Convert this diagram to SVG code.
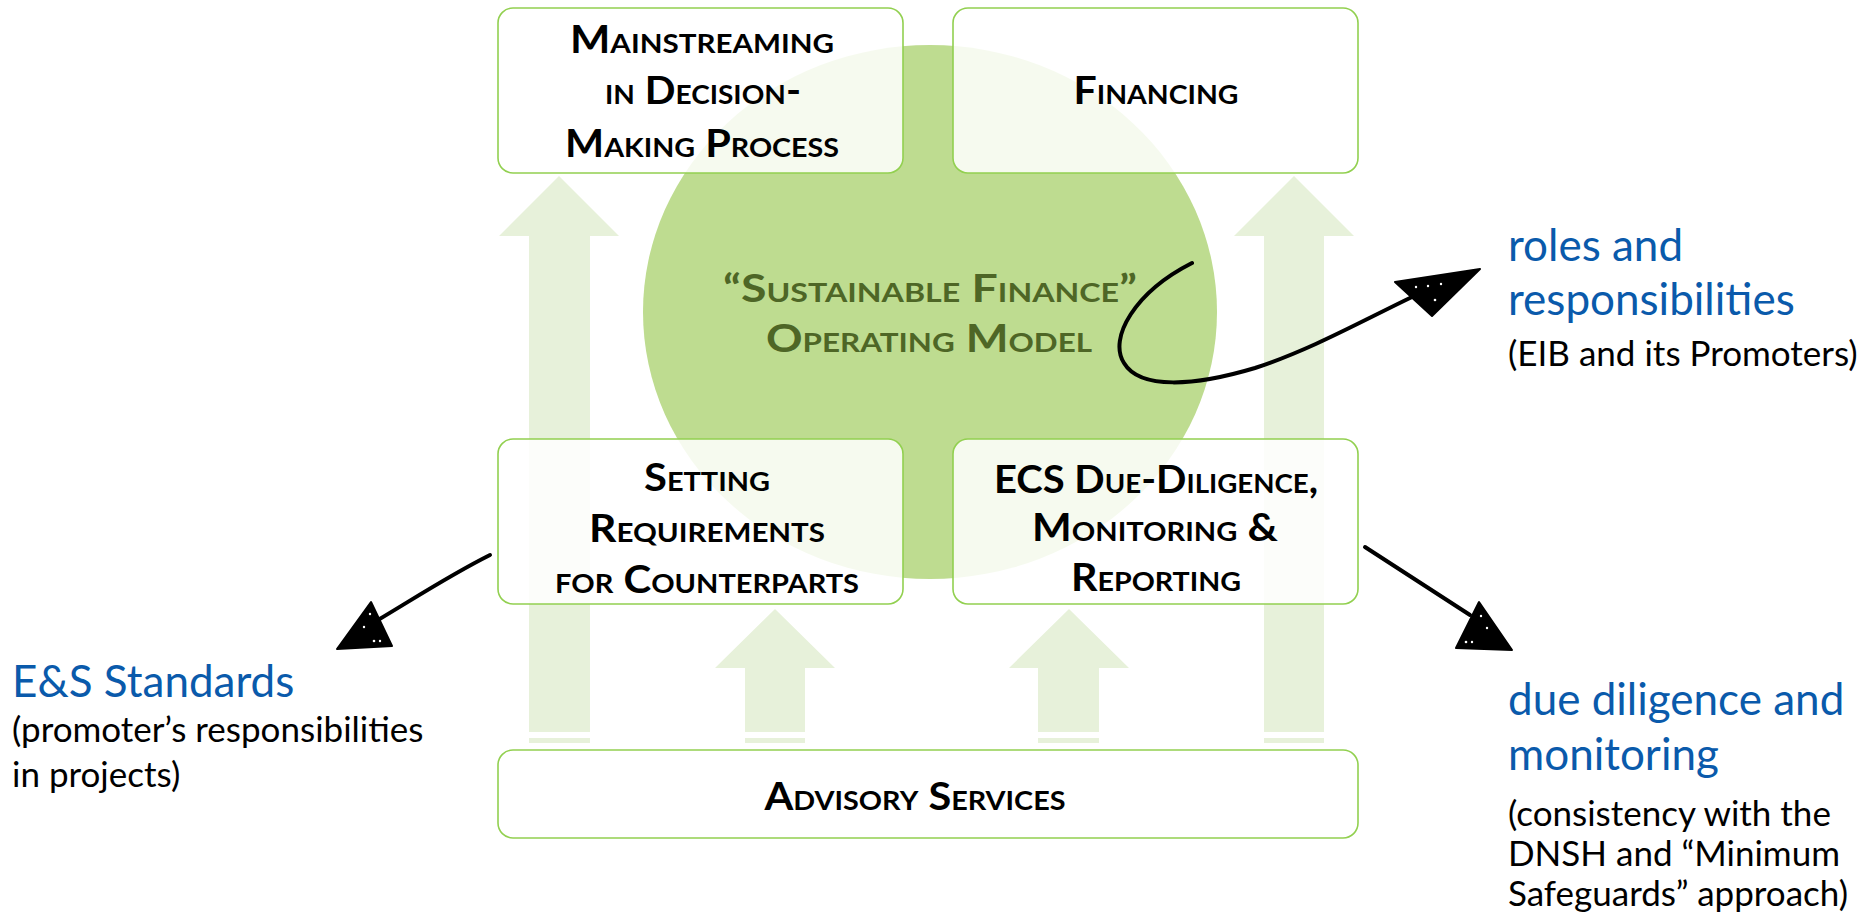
<svg xmlns="http://www.w3.org/2000/svg" width="1867" height="918" viewBox="0 0 1867 918">
<style>
.bg{fill:#ffffff}
.up{fill:#e7f1da}
.box{fill:#ffffff;fill-opacity:0.86;stroke:#92d050;stroke-width:1.6}
.t{font-family:Lato,"Liberation Sans",sans-serif;font-weight:700;font-variant:small-caps;font-size:39px;fill:#000;text-anchor:middle}
.c{font-family:Lato,"Liberation Sans",sans-serif;font-weight:700;font-variant:small-caps;font-size:39px;fill:#4e6626;text-anchor:middle}
.blue{font-family:Lato,"Liberation Sans",sans-serif;font-size:44px;fill:#0a5aab}
.blk{font-family:Lato,"Liberation Sans",sans-serif;font-size:35px;fill:#000}
.ln{fill:none;stroke:#000;stroke-width:4;stroke-linecap:round}
.hd{fill:#000;stroke:#000;stroke-width:2;stroke-linejoin:round}
.sp{fill:#fff}
</style>
<rect class="bg" x="0" y="0" width="1867" height="918"/>
<g id="flow-arrows">
  <polygon class="up" points="559,176 619,236 590,236 590,732 529,732 529,236 499,236"/>
  <rect class="up" x="529" y="738" width="61" height="5"/>
  <polygon class="up" points="1294,176 1354,236 1324,236 1324,732 1264,732 1264,236 1234,236"/>
  <rect class="up" x="1264" y="738" width="60" height="5"/>
  <polygon class="up" points="775,609 835,668 805,668 805,732 745,732 745,668 715,668"/>
  <rect class="up" x="745" y="738" width="60" height="5"/>
  <polygon class="up" points="1069,609 1129,668 1099,668 1099,732 1038,732 1038,668 1009,668"/>
  <rect class="up" x="1038" y="738" width="61" height="5"/>
</g>
<g id="operating-model">
  <ellipse cx="930" cy="312" rx="287" ry="267" fill="#bedc90"/>
  <text class="c" x="930" y="302" textLength="414" lengthAdjust="spacingAndGlyphs">“Sustainable Finance”</text>
  <text class="c" x="929" y="352" textLength="326" lengthAdjust="spacingAndGlyphs">Operating Model</text>
</g>
<g id="node-mainstreaming">
  <rect class="box" x="498" y="8" width="405" height="165" rx="15"/>
  <text class="t" x="702" y="53" textLength="264" lengthAdjust="spacingAndGlyphs">Mainstreaming</text>
  <text class="t" x="703" y="104" textLength="196" lengthAdjust="spacingAndGlyphs">in Decision-</text>
  <text class="t" x="702" y="157" textLength="274" lengthAdjust="spacingAndGlyphs">Making Process</text>
</g>
<g id="node-financing">
  <rect class="box" x="953" y="8" width="405" height="165" rx="15"/>
  <text class="t" x="1156" y="104" textLength="165" lengthAdjust="spacingAndGlyphs">Financing</text>
</g>
<g id="node-setting">
  <rect class="box" x="498" y="439" width="405" height="165" rx="15"/>
  <text class="t" x="707" y="491" textLength="126" lengthAdjust="spacingAndGlyphs">Setting</text>
  <text class="t" x="707" y="542" textLength="236" lengthAdjust="spacingAndGlyphs">Requirements</text>
  <text class="t" x="707" y="593" textLength="304" lengthAdjust="spacingAndGlyphs">for Counterparts</text>
</g>
<g id="node-ecs">
  <rect class="box" x="953" y="439" width="405" height="165" rx="15"/>
  <text class="t" x="1156" y="493" textLength="324" lengthAdjust="spacingAndGlyphs">ECS Due-Diligence,</text>
  <text class="t" x="1155" y="541" textLength="246" lengthAdjust="spacingAndGlyphs">Monitoring &amp;</text>
  <text class="t" x="1156" y="591" textLength="170" lengthAdjust="spacingAndGlyphs">Reporting</text>
</g>
<g id="node-advisory">
  <rect class="box" x="498" y="750" width="860" height="88" rx="15"/>
  <text class="t" x="915" y="810" textLength="301" lengthAdjust="spacingAndGlyphs">Advisory Services</text>
</g>
<g id="connectors">
  <path class="ln" d="M1192,263 C1135,292 1108,338 1124,363 C1140,390 1195,386 1255,368 C1310,350 1360,322 1412,297" stroke-width="5"/>
  <polygon class="hd" points="1480,269 1395,282 1432,316"/>
  <circle class="sp" cx="1416" cy="287" r="1.2"/><circle class="sp" cx="1428" cy="286" r="1.2"/><circle class="sp" cx="1441" cy="284" r="1.2"/><circle class="sp" cx="1435" cy="300" r="1.3"/>
  <path class="ln" d="M490,555 C450,575 415,598 378,620"/>
  <polygon class="hd" points="337,649 371,602 392,646"/>
  <circle class="sp" cx="370" cy="614" r="1.2"/><circle class="sp" cx="364" cy="627" r="1.2"/><circle class="sp" cx="374" cy="641" r="1.3"/><circle class="sp" cx="380" cy="641" r="1.2"/>
  <path class="ln" d="M1365,547 C1400,570 1435,592 1470,615"/>
  <polygon class="hd" points="1512,650 1479,602 1456,648"/>
  <circle class="sp" cx="1481" cy="616" r="1.2"/><circle class="sp" cx="1487" cy="628" r="1.2"/><circle class="sp" cx="1466" cy="642" r="1.3"/><circle class="sp" cx="1472" cy="642" r="1.2"/>
</g>
<g id="label-roles">
  <text class="blue" x="1508" y="261">roles and</text>
  <text class="blue" x="1508" y="315">responsibilities</text>
  <text class="blk" x="1508" y="366">(EIB and its Promoters)</text>
</g>
<g id="label-es">
  <text class="blue" x="12" y="697">E&amp;S Standards</text>
  <text class="blk" x="12" y="742">(promoter’s responsibilities</text>
  <text class="blk" x="12" y="787">in projects)</text>
</g>
<g id="label-dd">
  <text class="blue" x="1508" y="715">due diligence and</text>
  <text class="blue" x="1508" y="770">monitoring</text>
  <text class="blk" x="1508" y="826">(consistency with the</text>
  <text class="blk" x="1508" y="866">DNSH and “Minimum</text>
  <text class="blk" x="1508" y="906">Safeguards” approach)</text>
</g>
</svg>
